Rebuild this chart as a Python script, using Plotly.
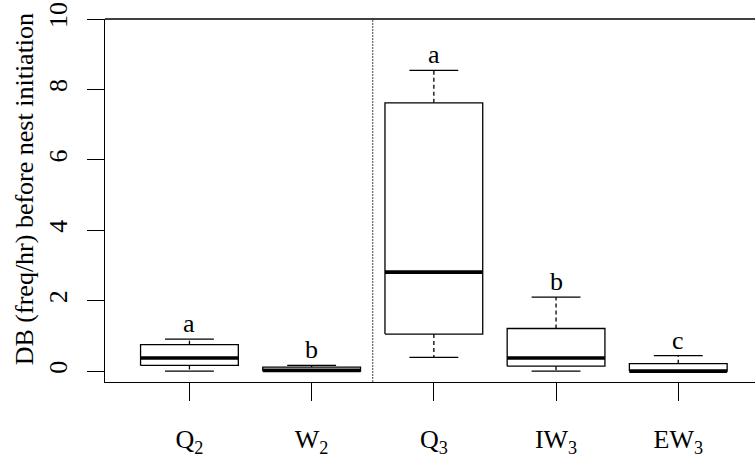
import plotly.graph_objects as go

# ---- data ----
groups = ["Q<sub>2</sub>", "W<sub>2</sub>", "Q<sub>3</sub>", "IW<sub>3</sub>", "EW<sub>3</sub>"]
lower = [0.0, 0.0, 0.39, 0.0, 0.0]
q1 = [0.16, 0.0, 1.05, 0.14, 0.0]
median = [0.37, 0.02, 2.81, 0.37, 0.0]
q3 = [0.75, 0.11, 7.62, 1.21, 0.21]
upper = [0.91, 0.16, 8.54, 2.10, 0.44]
letters = ["a", "b", "a", "b", "c"]
yticks = [0, 2, 4, 6, 8, 10]
ytitle = "DB (freq/hr) before nest initiation"
separator_at = 2.5

FONT = "Liberation Serif"
FS = 26
BOXW = 0.4   # half box width (R default width 0.8)
CAPW = 0.2   # half staple width
LW = 1.3

fig = go.Figure()
pos = list(range(1, len(groups) + 1))

for i, p in enumerate(pos):
    # whiskers (dashed)
    fig.add_trace(go.Scatter(x=[p, p, None, p, p], y=[q3[i], upper[i], None, q1[i], lower[i]],
                             mode="lines", line=dict(color="black", width=LW, dash="4px,3px"),
                             hoverinfo="skip", showlegend=False))
    # staples
    fig.add_trace(go.Scatter(x=[p - CAPW, p + CAPW, None, p - CAPW, p + CAPW],
                             y=[upper[i], upper[i], None, lower[i], lower[i]],
                             mode="lines", line=dict(color="black", width=LW),
                             hoverinfo="skip", showlegend=False))
    # box
    fig.add_trace(go.Scatter(x=[p - BOXW, p + BOXW, p + BOXW, p - BOXW, p - BOXW],
                             y=[q1[i], q1[i], q3[i], q3[i], q1[i]],
                             mode="lines", fill="toself", fillcolor="white",
                             line=dict(color="black", width=LW),
                             hoverinfo="skip", showlegend=False))
    # median
    fig.add_trace(go.Scatter(x=[p - BOXW, p + BOXW], y=[median[i], median[i]],
                             mode="lines", line=dict(color="black", width=3.6),
                             hoverinfo="skip", showlegend=False))
    # significance letter
    fig.add_annotation(x=p, y=upper[i], xref="x", yref="y", text=letters[i], showarrow=False,
                       yanchor="bottom", yshift=-1, font=dict(family=FONT, size=FS, color="black"))

# y-axis title
fig.add_annotation(x=0, y=0.531, xref="paper", yref="paper", text=ytitle, textangle=-90,
                   showarrow=False, xanchor="center", yanchor="middle", xshift=-81,
                   font=dict(family=FONT, size=FS, color="black"))

# frame top line and group separator
fig.add_shape(type="line", xref="paper", yref="paper", x0=0, x1=1, y0=1, y1=1,
              line=dict(color="black", width=LW))
fig.add_shape(type="line", xref="x", yref="paper", x0=separator_at, x1=separator_at, y0=0, y1=1,
              line=dict(color="#444444", width=1, dash="2px,1px"))

fig.update_layout(
    width=755, height=458,
    margin=dict(l=105, r=0, t=19, b=73),
    paper_bgcolor="white", plot_bgcolor="white",
    font=dict(family=FONT, size=FS, color="black"),
    xaxis=dict(range=[0.309, 5.628], tickvals=pos, ticktext=groups, showgrid=False, zeroline=False,
               showline=True, linecolor="black", linewidth=LW, ticks="outside", ticklen=18,
               tickwidth=LW, tickcolor="black", ticklabelstandoff=16,
               tickfont=dict(family=FONT, size=FS, color="black")),
    yaxis=dict(range=[-0.31, 10], tickvals=yticks, ticktext=[str(v) for v in yticks],
               showgrid=False, zeroline=False, showline=True, linecolor="black", linewidth=LW,
               ticks="outside", ticklen=17, tickwidth=LW, tickcolor="black", tickangle=-90,
               ticklabelstandoff=9,
               tickfont=dict(family=FONT, size=FS, color="black")),
)

fig.write_html("out.html")
